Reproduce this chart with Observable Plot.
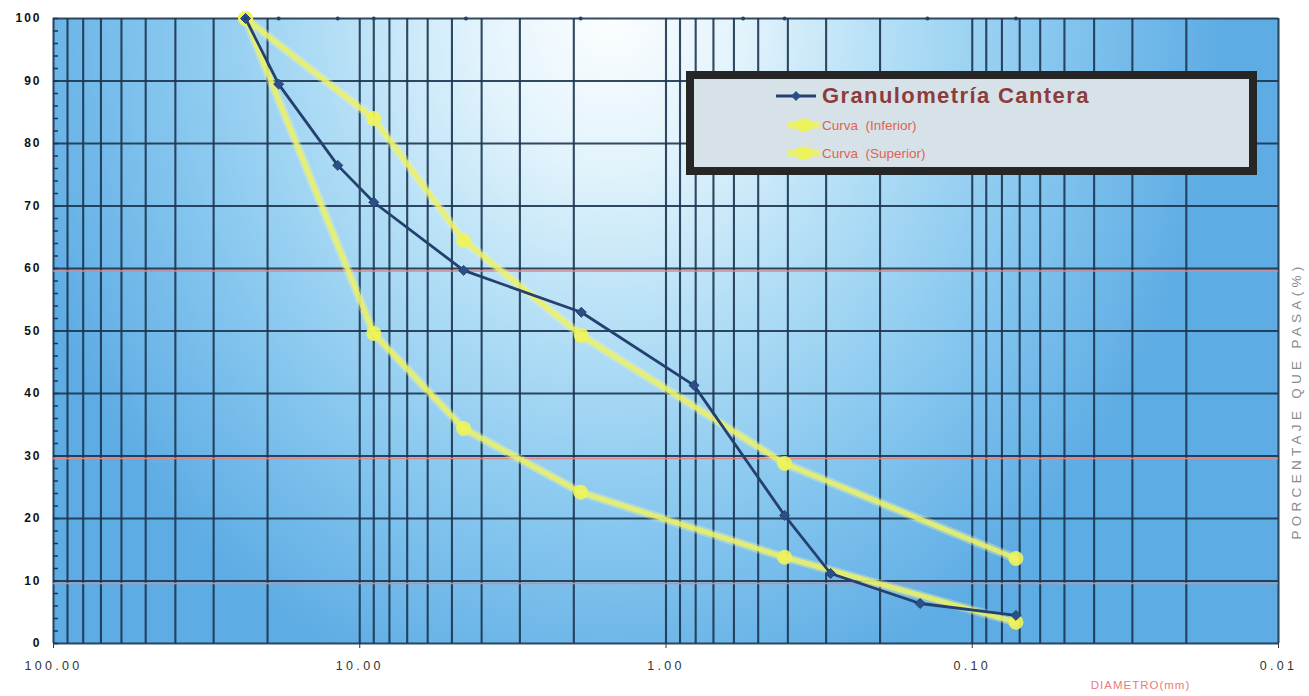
<!DOCTYPE html>
<html>
<head>
<meta charset="utf-8">
<script src="https://cdn.jsdelivr.net/npm/d3@7"></script>
<script src="https://cdn.jsdelivr.net/npm/@observablehq/plot@0.6"></script>
<style>
  html, body { margin: 0; padding: 0; background: #fff; }
  #wrap { position: relative; width: 1309px; height: 696px; font-family: "Liberation Sans", Arial, sans-serif; }
  #legend { position: absolute; left: 686px; top: 71px; width: 555px; height: 88px; border: 8px solid #262626; background: #d7e2e8; }
  .li { position: absolute; left: 0; display: flex; align-items: center; }
  .lt1 { font-family: "Liberation Sans", sans-serif; font-weight: bold; font-size: 22px; letter-spacing: 1.4px; color: #8e3b3b; }
  .lt2 { font-family: "Liberation Sans", sans-serif; font-size: 13.5px; color: #e0624f; }
  .ylab text { letter-spacing: 2px; }
  .xlab text { letter-spacing: 3.3px; }
  .rlab text { letter-spacing: 4.3px; }
  .blab text { letter-spacing: 1px; }
</style>
</head>
<body>
<div id="wrap">
  <div id="chart"></div>
  <div id="legend">
    <div class="li" style="top:4px; left:80px;">
      <svg width="44" height="16"><line x1="2" y1="8" x2="42" y2="8" stroke="#23406e" stroke-width="3"/><path d="M22 3 L27 8 L22 13 L17 8 Z" fill="#2a4f8a"/></svg>
      <span class="lt1" style="margin-left:4px">Granulometría Cantera</span>
    </div>
    <div class="li" style="top:38px; left:92px;">
      <svg width="36" height="16"><line x1="2" y1="8" x2="34" y2="8" stroke="#eef36a" stroke-width="7" opacity="0.9"/><ellipse cx="18" cy="8" rx="10" ry="6.5" fill="#ecf35c"/></svg>
      <span class="lt2">Curva&nbsp; (Inferior)</span>
    </div>
    <div class="li" style="top:66px; left:92px;">
      <svg width="36" height="16"><line x1="2" y1="8" x2="34" y2="8" stroke="#eef36a" stroke-width="7" opacity="0.9"/><ellipse cx="18" cy="8" rx="10" ry="6.5" fill="#ecf35c"/></svg>
      <span class="lt2">Curva&nbsp; (Superior)</span>
    </div>
  </div>
</div>
<script>
// ---- data ----
const canteraDiam = [23.6, 18.4, 11.8, 9.0, 4.58, 1.89, 0.81, 0.41, 0.29, 0.148, 0.072];
const canteraPasa = [100, 89.5, 76.5, 70.6, 59.7, 53, 41.3, 20.5, 11.2, 6.4, 4.5];

const inferiorDiam = [23.6, 9.0, 4.58, 1.9, 0.41, 0.072];
const inferiorPasa = [100, 49.6, 34.4, 24.2, 13.8, 3.4];

const superiorDiam = [23.6, 9.0, 4.58, 1.89, 0.41, 0.072];
const superiorPasa = [100, 84, 64.5, 49.3, 28.8, 13.6];

const topDotsDiam = [23.6, 18.4, 11.8, 9.0, 4.5, 1.9, 0.56, 0.41, 0.14, 0.072];

const xTickValues = [100, 10, 1, 0.1, 0.01];
const yTickValues = [0, 10, 20, 30, 40, 50, 60, 70, 80, 90, 100];
const yMinorTicks = d3.range(0, 101, 2);
const redGridY = [10, 30, 60];
const decades = [10, 1, 0.1, 0.01];
const minorMultipliers = [1, 2, 3, 4, 5, 6, 7, 8, 9];

// ---- derived tables ----
const cantera = canteraDiam.map((d, i) => ({d, p: canteraPasa[i]}));
const inferior = inferiorDiam.map((d, i) => ({d, p: inferiorPasa[i]}));
const superior = superiorDiam.map((d, i) => ({d, p: superiorPasa[i]}));
const topDots = topDotsDiam.map(d => ({d, p: 100}));
const xGrid = decades.flatMap(dec => minorMultipliers.map(m => +(m * dec).toPrecision(6))).concat([100]);

const grid = "#1c3550";
const yellow = "#ebf166";

const chart = Plot.plot({
  width: 1309,
  height: 696,
  marginLeft: 53,
  marginRight: 31,
  marginTop: 18,
  marginBottom: 53,
  style: {background: "transparent", fontFamily: "Liberation Sans, Arial, sans-serif"},
  x: {type: "log", domain: [100, 0.01], label: null},
  y: {domain: [0, 100], label: null},
  marks: [
    Plot.frame({fill: "#8cc8ee", stroke: null}),
    Plot.ruleX(xGrid, {stroke: grid, strokeWidth: 2.1, strokeOpacity: 0.9}),
    Plot.ruleY(yTickValues, {stroke: grid, strokeWidth: 2.1, strokeOpacity: 0.9}),
    Plot.ruleY(redGridY, {stroke: "#d9898a", strokeWidth: 1.6, dy: 2.5}),
    // yellow curves (soft glow + line + markers)
    Plot.line(inferior, {x: "d", y: "p", stroke: "#f3f7a0", strokeWidth: 9, strokeOpacity: 0.35}),
    Plot.line(superior, {x: "d", y: "p", stroke: "#f3f7a0", strokeWidth: 9, strokeOpacity: 0.35}),
    Plot.line(inferior, {x: "d", y: "p", stroke: yellow, strokeWidth: 5, strokeOpacity: 0.85}),
    Plot.line(superior, {x: "d", y: "p", stroke: yellow, strokeWidth: 5, strokeOpacity: 0.85}),
    Plot.dot(inferior, {x: "d", y: "p", r: 7.5, fill: "#eef45a", fillOpacity: 0.9}),
    Plot.dot(superior, {x: "d", y: "p", r: 7.5, fill: "#eef45a", fillOpacity: 0.9}),
    // cantera line
    Plot.line(cantera, {x: "d", y: "p", stroke: "#23406e", strokeWidth: 2.8}),
    Plot.dot(cantera, {x: "d", y: "p", symbol: "diamond2", r: 4.5, fill: "#2a4f8a", stroke: "#23406e", strokeWidth: 1}),
    Plot.dot(topDots, {x: "d", y: "p", r: 2, fill: "#23406e"}),
    // axes
    Plot.axisY(yMinorTicks, {tickSize: -5, tickFormat: () => "", stroke: grid, strokeWidth: 1.5, label: null}),
    Plot.axisY(yTickValues, {className: "ylab", tickSize: 0, tickPadding: 12, fontSize: 12, fontWeight: "bold", fill: "#111", label: null}),
    Plot.axisX(xTickValues, {className: "xlab", tickSize: 5, tickPadding: 13, tickFormat: d => d.toFixed(2), fontSize: 12.5, fill: "#333", label: null, stroke: "#333"}),
    Plot.text(["PORCENTAJE QUE PASA(%)"], {className: "rlab", frameAnchor: "right", dx: 18, dy: 70, rotate: -90, fontSize: 13.5, fill: "#8a8a8a", textAnchor: "middle"}),
    Plot.text(["DIAMETRO(mm)"], {className: "blab", frameAnchor: "bottom-right", dx: -138, dy: 45, fontSize: 11.5, fill: "#e87b7b", textAnchor: "middle"})
  ]
});

document.getElementById("chart").appendChild(chart);

// gradient background for the plot frame
const svg = d3.select(chart);
const defs = svg.insert("defs", ":first-child");
const g = defs.append("radialGradient").attr("id", "bg")
  .attr("gradientUnits", "userSpaceOnUse")
  .attr("cx", 610).attr("cy", 10).attr("r", 720)
  .attr("gradientTransform", "translate(610 10) scale(0.85 1) translate(-610 -10)");
[[0, "#fdfeff"], [0.22, "#e2f3fc"], [0.48, "#aedcf5"], [0.75, "#82c4ee"], [1, "#5eace4"]]
  .forEach(([o, c]) => g.append("stop").attr("offset", o).attr("stop-color", c));
svg.selectAll("[aria-label=frame]").attr("fill", "url(#bg)");
svg.selectAll("[aria-label=frame] rect").attr("fill", "url(#bg)");
</script>
</body>
</html>
